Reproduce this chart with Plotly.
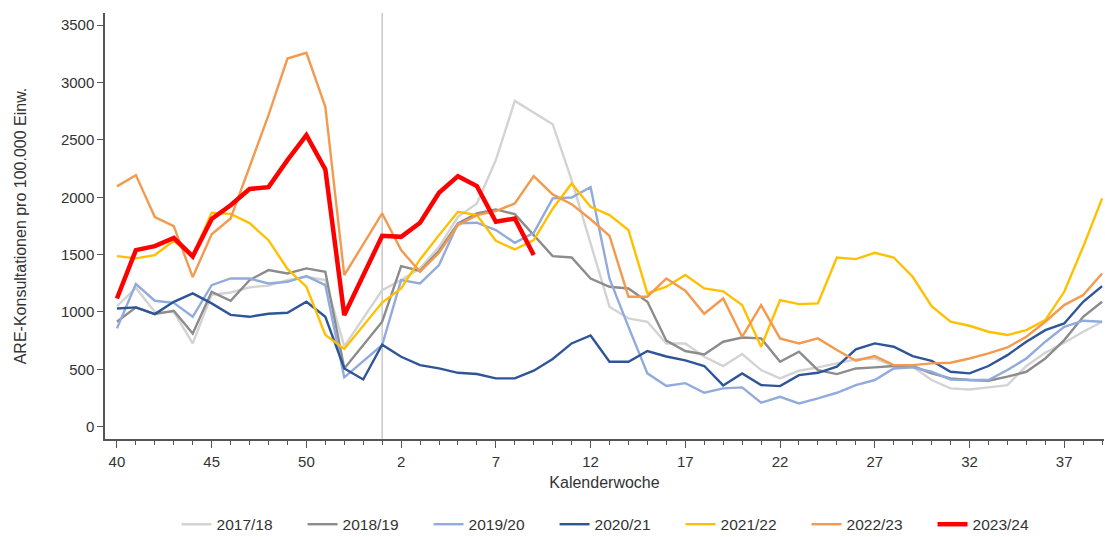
import plotly.graph_objects as go

weeks = list(range(40, 54)) + list(range(1, 40))
tick_weeks = [40, 45, 50, 2, 7, 12, 17, 22, 27, 32, 37]
season_start_week = 1

seasons = ["2017/18", "2018/19", "2019/20", "2020/21", "2021/22", "2022/23", "2023/24"]

s2017 = [1050, 1210, 1000, 1000, 726, 1150, 1170, 1215, 1230, 1278, 1307, 1278, 700, None,
         1191, 1278, 1380, 1568, 1830, 1946, 2324, 2840, 2739, 2637, 2149, 1600, 1046, 944, 915,
         726, 726, 610, 529, 633, 494, 421, 488, 517, 552, 587, 595, 529, 523, 407, 334, 325,
         343, 363, 529, 645, 732, 828, 915]
s2018 = [915, 1040, 982, 1011, 813, 1176, 1098, 1278, 1365, 1336, 1380, 1350, 508, None,
         915, 1400, 1359, 1534, 1772, 1859, 1894, 1853, 1670, 1487, 1475, 1292, 1220, 1205, 1089,
         750, 660, 630, 741, 778, 770, 566, 654, 494, 459, 508, 517, 529, 529, 465, 421, 407,
         401, 436, 479, 595, 755, 958, 1089]
s2019 = [857, 1243, 1098, 1080, 958, 1234, 1292, 1292, 1249, 1263, 1313, 1234, 430, None,
         712, 1278, 1249, 1409, 1772, 1778, 1714, 1603, 1690, 1990, 1998, 2088, 1290, 870, 465,
         355, 380, 296, 334, 343, 209, 261, 203, 247, 296, 363, 407, 508, 517, 479, 412, 407,
         407, 494, 595, 741, 871, 924, 915]
s2020 = [1031, 1040, 982, 1089, 1162, 1075, 975, 958, 985, 993, 1089, 958, 508, 412,
         715, 610, 537, 508, 470, 459, 421, 421, 488, 590, 726, 795, 566, 566, 660,
         612, 578, 529, 360, 465, 363, 354, 450, 470, 523, 674, 726, 697, 616, 575, 479, 465,
         529, 624, 741, 842, 900, 1089, 1226]
s2021 = [1487, 1467, 1496, 1620, 1485, 1865, 1855, 1775, 1626, 1375, 1220, 799, 678, None,
         1082, 1205, 1458, 1670, 1873, 1844, 1621, 1545, 1626, 1900, 2120, 1917, 1844, 1714, 1162,
         1220, 1322, 1205, 1180, 1060, 697, 1104, 1069, 1075, 1475, 1461, 1516, 1475, 1307, 1051,
         915, 880, 828, 799, 842, 929, 1176, 1568, 1990]
s2022 = [2095, 2193, 1828, 1748, 1304, 1677, 1815, 2270, 2716, 3209, 3259, 2788, 1321, None,
         1859, 1539, 1351, 1516, 1757, 1844, 1879, 1946, 2184, 2025, 1940, 1808, 1663, 1133, 1133,
         1292, 1185, 985, 1118, 784, 1060, 770, 726, 770, 668, 575, 616, 537, 537, 552, 558, 595,
         639, 691, 784, 915, 1060, 1147, 1336]
s2023 = [1118, 1539, 1574, 1645, 1484, 1811, 1930, 2072, 2088, 2324, 2541, 2242, 973, None,
         1664, 1655, 1778, 2039, 2184, 2097, 1786, 1815, 1496]

series = [s2017, s2018, s2019, s2020, s2021, s2022, s2023]
colors = ["#d3d3d3", "#8c8c8c", "#91abdc", "#2f5597", "#ffc000", "#f39a4f", "#ff0000"]
widths = [2.4, 2.4, 2.4, 2.4, 2.4, 2.4, 4.5]

y_ticks = [0, 500, 1000, 1500, 2000, 2500, 3000, 3500]

xpos = list(range(len(weeks)))

fig = go.Figure()
for name, vals, col, w in zip(seasons, series, colors, widths):
    fig.add_trace(go.Scatter(
        x=xpos[:len(vals)], y=vals, mode="lines", name=name,
        line=dict(color=col, width=w), connectgaps=True,
    ))

fig.add_shape(type="line", xref="x", yref="paper",
              x0=weeks.index(season_start_week), x1=weeks.index(season_start_week),
              y0=0, y1=1, line=dict(color="#c8c8c8", width=1.5), layer="below")

fig.update_layout(
    width=1105, height=537,
    margin=dict(l=105, r=1, t=13, b=98, autoexpand=False),
    paper_bgcolor="white", plot_bgcolor="white",
    font=dict(family="Liberation Sans, Arial, sans-serif", size=15, color="#333333"),
    showlegend=True,
    legend=dict(orientation="h", x=0.0716, xanchor="left", y=-0.201, yanchor="middle",
                entrywidth=81, entrywidthmode="pixels", font=dict(size=15.5, color="#333333"),
                itemwidth=30, tracegroupgap=0),
)
fig.update_xaxes(
    range=[-0.63, 52.1],
    automargin=False,
    tickmode="array",
    tickvals=[weeks.index(w) for w in tick_weeks],
    ticktext=[str(w) for w in tick_weeks],
    ticks="outside", ticklen=7, tickwidth=1.3, tickcolor="#555555",
    ticklabelstandoff=1,
    minor=dict(dtick=1, tick0=0, ticks="outside", ticklen=4, tickwidth=1.2, tickcolor="#555555"),
    showline=True, linecolor="#555555", linewidth=1.5,
    showgrid=False, zeroline=False,
    title=dict(text="Kalenderwoche", font=dict(size=16), standoff=8),
)
fig.update_yaxes(
    range=[-107, 3606],
    automargin=False,
    tickmode="array", tickvals=y_ticks,
    ticks="outside", ticklen=6, tickwidth=1.3, tickcolor="#555555",
    showline=True, linecolor="#555555", linewidth=1.5,
    showgrid=False, zeroline=False,
    title=dict(text="ARE-Konsultationen pro 100.000 Einw.", font=dict(size=16), standoff=30),
)

fig.write_html("out.html", config={"displayModeBar": False},
               post_script="document.body.style.margin='0px';document.body.style.overflow='hidden';")
